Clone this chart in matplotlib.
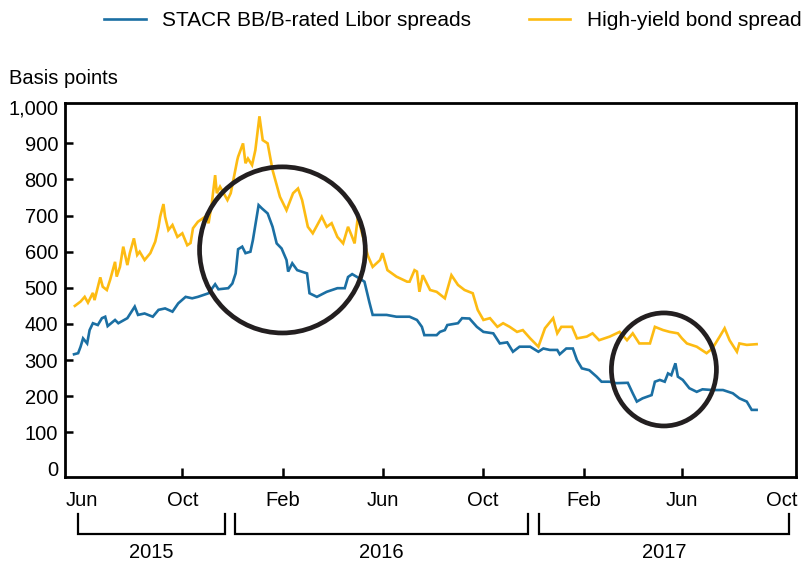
import matplotlib
matplotlib.use("Agg")
import matplotlib.pyplot as plt
import matplotlib.dates as mdates
import matplotlib.transforms as mtransforms
from matplotlib.patches import Ellipse
from matplotlib.ticker import FuncFormatter
import pandas as pd

plt.rcParams['font.family'] = ['Liberation Sans', 'DejaVu Sans']
plt.rcParams['font.size'] = 14.5

# ---------------- data ----------------
hy_dates = [
    "2015-05-23", "2015-05-30", "2015-06-04", "2015-06-08", "2015-06-14", "2015-06-16",
    "2015-06-23", "2015-06-26", "2015-07-01", "2015-07-05", "2015-07-11", "2015-07-13",
    "2015-07-17", "2015-07-21", "2015-07-26", "2015-07-29", "2015-08-03", "2015-08-07",
    "2015-08-10", "2015-08-16", "2015-08-23", "2015-08-29", "2015-09-02", "2015-09-04",
    "2015-09-08", "2015-09-10", "2015-09-14", "2015-09-19", "2015-09-25", "2015-10-01",
    "2015-10-07", "2015-10-11", "2015-10-14", "2015-10-20", "2015-10-29", "2015-11-02",
    "2015-11-06", "2015-11-10", "2015-11-12", "2015-11-16", "2015-11-25", "2015-11-29",
    "2015-12-07", "2015-12-08", "2015-12-14", "2015-12-17", "2015-12-20", "2015-12-25",
    "2015-12-29", "2016-01-03", "2016-01-07", "2016-01-13", "2016-01-19", "2016-01-28",
    "2016-02-05", "2016-02-13", "2016-02-19", "2016-02-24", "2016-03-02", "2016-03-08",
    "2016-03-19", "2016-03-25", "2016-03-31", "2016-04-07", "2016-04-14", "2016-04-20",
    "2016-04-25", "2016-04-28", "2016-05-02", "2016-05-07", "2016-05-14", "2016-05-20",
    "2016-05-29", "2016-06-01", "2016-06-07", "2016-06-18", "2016-07-01", "2016-07-04",
    "2016-07-10", "2016-07-13", "2016-07-16", "2016-07-20", "2016-07-29", "2016-08-06",
    "2016-08-16", "2016-08-24", "2016-09-01", "2016-09-09", "2016-09-19", "2016-09-25",
    "2016-10-02", "2016-10-10", "2016-10-19", "2016-10-26", "2016-11-03", "2016-11-12",
    "2016-11-19", "2016-11-28", "2016-12-08", "2016-12-16", "2016-12-26", "2016-12-31",
    "2017-01-05", "2017-01-18", "2017-01-24", "2017-02-05", "2017-02-12", "2017-02-20",
    "2017-03-05", "2017-03-17", "2017-03-26", "2017-04-02", "2017-04-10", "2017-04-23",
    "2017-04-29", "2017-05-09", "2017-05-17", "2017-05-27", "2017-06-01", "2017-06-07",
    "2017-06-19", "2017-07-01", "2017-07-08", "2017-07-17", "2017-07-23", "2017-07-29",
    "2017-08-07", "2017-08-10", "2017-08-19", "2017-08-31",
]
hy_values = [
    450, 462, 475, 459, 486, 466,
    529, 503, 494, 522, 572, 531,
    558, 614, 563, 596, 637, 591,
    600, 577, 596, 628, 669, 697,
    732, 697, 660, 674, 641, 651,
    618, 624, 665, 683, 697, 679,
    735, 812, 762, 780, 743, 762,
    854, 863, 900, 845, 858, 840,
    881, 975, 909, 900, 826, 752,
    715, 762, 775, 743, 669, 651,
    697, 669, 679, 641, 623, 669,
    641, 623, 697, 651, 590, 558,
    577, 596, 549, 531, 517, 517,
    549, 545, 489, 535, 494, 489,
    471, 535, 508, 494, 485, 439,
    411, 416, 392, 402, 392, 378,
    383, 360, 337, 388, 416, 374,
    392, 392, 360, 365, 374, 355,
    365, 378, 355, 374, 346, 346,
    392, 383, 378, 374, 360, 346,
    337, 319, 332, 365, 388, 355,
    323, 346, 342, 344,
]

stacr_dates = [
    "2015-05-22", "2015-05-27", "2015-05-30", "2015-06-02", "2015-06-07", "2015-06-10",
    "2015-06-14", "2015-06-20", "2015-06-25", "2015-06-29", "2015-07-02", "2015-07-11",
    "2015-07-15", "2015-07-26", "2015-08-04", "2015-08-08", "2015-08-16", "2015-08-26",
    "2015-09-02", "2015-09-10", "2015-09-19", "2015-09-26", "2015-10-05", "2015-10-13",
    "2015-10-20", "2015-11-02", "2015-11-10", "2015-11-14", "2015-11-26", "2015-12-01",
    "2015-12-05", "2015-12-08", "2015-12-13", "2015-12-17", "2015-12-23", "2015-12-26",
    "2016-01-02", "2016-01-06", "2016-01-13", "2016-01-19", "2016-01-24", "2016-01-30",
    "2016-02-05", "2016-02-07", "2016-02-12", "2016-02-18", "2016-03-01", "2016-03-04",
    "2016-03-13", "2016-03-25", "2016-04-07", "2016-04-16", "2016-04-20", "2016-04-25",
    "2016-05-04", "2016-05-10", "2016-05-16", "2016-05-20", "2016-05-26", "2016-06-06",
    "2016-06-18", "2016-07-04", "2016-07-13", "2016-07-19", "2016-07-22", "2016-08-06",
    "2016-08-10", "2016-08-16", "2016-08-19", "2016-09-01", "2016-09-06", "2016-09-15",
    "2016-09-24", "2016-10-02", "2016-10-14", "2016-10-22", "2016-10-31", "2016-11-07",
    "2016-11-15", "2016-11-28", "2016-12-08", "2016-12-14", "2016-12-22", "2016-12-31",
    "2017-01-03", "2017-01-11", "2017-01-19", "2017-01-24", "2017-01-30", "2017-02-08",
    "2017-02-17", "2017-02-23", "2017-03-05", "2017-03-13", "2017-03-27", "2017-04-02",
    "2017-04-07", "2017-04-14", "2017-04-25", "2017-04-29", "2017-05-05", "2017-05-11",
    "2017-05-15", "2017-05-19", "2017-05-24", "2017-05-27", "2017-06-02", "2017-06-10",
    "2017-06-19", "2017-06-26", "2017-07-08", "2017-07-21", "2017-08-02", "2017-08-10",
    "2017-08-19", "2017-08-25", "2017-08-31",
]
stacr_values = [
    316, 319, 337, 360, 346, 383,
    402, 397, 416, 420, 394, 411,
    402, 416, 448, 425, 429, 420,
    439, 443, 434, 457, 475, 471,
    475, 485, 510, 496, 499, 512,
    540, 607, 614, 596, 600, 632,
    729, 720, 706, 669, 623, 609,
    577, 545, 568, 549, 540, 485,
    475, 489, 499, 499, 530, 538,
    526, 517, 460, 425, 425, 425,
    420, 420, 411, 392, 369, 369,
    378, 383, 397, 402, 416, 415,
    392, 378, 374, 346, 349, 323,
    337, 337, 323, 332, 328, 328,
    316, 332, 332, 300, 277, 272,
    254, 240, 240, 236, 237, 208,
    185, 194, 203, 240, 245, 240,
    263, 258, 291, 254, 245, 222,
    212, 219, 217, 217, 208, 194,
    185, 162, 162,
]

series_labels = ["STACR BB/B-rated Libor spreads", "High-yield bond spreads"]
month_ticks = ["2015-06-01", "2015-10-01", "2016-02-01", "2016-06-01",
               "2016-10-01", "2017-02-01", "2017-06-01", "2017-10-01"]
month_labels = ["Jun", "Oct", "Feb", "Jun", "Oct", "Feb", "Jun", "Oct"]
year_labels = ["2015", "2016", "2017"]
year_spans = [("2015-05-27", "2015-11-22"), ("2015-12-04", "2016-11-25"),
              ("2016-12-09", "2017-10-09")]
y_ticks = [0, 100, 200, 300, 400, 500, 600, 700, 800, 900, 1000]
# highlighted regions: (center date, center value, width in days, height in bp)
circles = [("2016-01-31", 605, 202, 460), ("2017-05-10", 274, 128, 313)]

BLUE = "#1b6fa3"
GOLD = "#fdbb12"

# ---------------- figure ----------------
W, H = 801, 561
fig = plt.figure(figsize=(W / 100, H / 100), dpi=100)
ax = fig.add_axes([65 / W, 1 - 476.7 / H, (796 - 65) / W, (476.7 - 103.3) / H])

ax.plot(pd.to_datetime(stacr_dates), stacr_values, color=BLUE, lw=1.9,
        label=series_labels[0], solid_joinstyle='miter')
ax.plot(pd.to_datetime(hy_dates), hy_values, color=GOLD, lw=1.9,
        label=series_labels[1], solid_joinstyle='miter')

for cd, cv, wd, hv in circles:
    e = Ellipse((mdates.date2num(pd.Timestamp(cd)), cv), wd, hv, fill=False,
                edgecolor="#231f20", lw=3.4, zorder=5)
    ax.add_patch(e)

ax.set_xlim(pd.Timestamp("2015-05-11"), pd.Timestamp("2017-10-18"))
ax.set_ylim(-23, 1011)

ax.set_yticks(y_ticks)
ax.yaxis.set_major_formatter(FuncFormatter(lambda v, p: f"{int(v):,}"))
ax.set_xticks(pd.to_datetime(month_ticks))
ax.set_xticklabels(month_labels)

for s in ax.spines.values():
    s.set_linewidth(2.0)
    s.set_color("black")

ax.tick_params(axis='y', direction='in', length=6, width=1.8, pad=5, labelsize=14.5)
ax.tick_params(axis='x', direction='in', length=6.5, width=1.8, pad=10, labelsize=14.5)

# hide end ticks (no tick marks at 0 / 1,000 and at the first/last month)
yt = ax.yaxis.get_major_ticks()
for t in (yt[0], yt[-1]):
    t.tick1line.set_visible(False)
xt = ax.xaxis.get_major_ticks()
for t in (xt[0], xt[-1]):
    t.tick1line.set_visible(False)

# year brackets below the axis
trans = mtransforms.blended_transform_factory(ax.transData, fig.transFigure)
y_top = 1 - 514 / H
y_bot = 1 - 534 / H
y_txt = 1 - 552 / H
for lab, (s, e) in zip(year_labels, year_spans):
    xs, xe = pd.Timestamp(s), pd.Timestamp(e)
    ax.plot([xs, xs, xe, xe], [y_top, y_bot, y_bot, y_top], color="black",
            lw=1.6, transform=trans, clip_on=False, solid_joinstyle='miter')
    xm = xs + (xe - xs) / 2
    ax.text(xm, y_txt, lab, transform=trans, ha='center', va='center', fontsize=14.5)

# axis unit label
fig.text(9 / W, 1 - 78 / H, "Basis points", ha='left', va='center', fontsize=14.5)

# legend across the top
fig.legend(loc='center left', bbox_to_anchor=(104 / W, 1 - 21 / H), ncol=2,
           frameon=False, fontsize=15, handlelength=2.0, handletextpad=0.8,
           columnspacing=2.75, borderpad=0, borderaxespad=0)

fig.savefig("out.png", dpi=100)
